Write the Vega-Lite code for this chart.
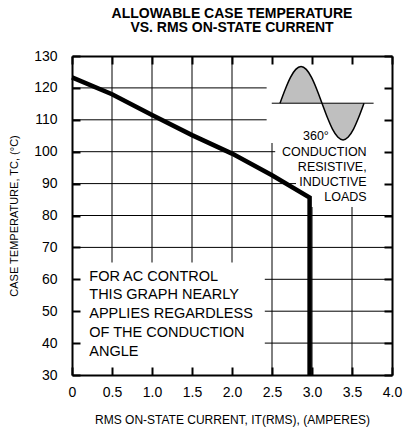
{
  "$schema": "https://vega.github.io/schema/vega-lite/v6.json",
  "width": 320,
  "height": 319,
  "autosize": "none",
  "padding": {"left": 72, "top": 56, "right": 12, "bottom": 55},
  "background": "white",
  "title": {
    "text": ["ALLOWABLE CASE TEMPERATURE", "VS. RMS ON-STATE CURRENT"],
    "font": "Liberation Sans",
    "fontSize": 14,
    "fontWeight": "bold",
    "lineHeight": 14.5,
    "color": "#000",
    "anchor": "middle",
    "offset": 14
  },
  "config": {
    "font": "Liberation Sans",
    "view": {"stroke": null},
    "axis": {
      "labelFont": "Liberation Sans",
      "labelFontSize": 14,
      "labelColor": "#000",
      "titleFont": "Liberation Sans",
      "titleFontWeight": "normal",
      "titleColor": "#000",
      "domainColor": "#000",
      "domainWidth": 2,
      "tickColor": "#000",
      "tickWidth": 2,
      "tickSize": -8,
      "grid": false,
      "zindex": 1
    }
  },
  "resolve": {"axis": {"x": "independent", "y": "independent"}},
  "layer": [
    {
      "data": {"values": [{"gy": 40}, {"gy": 50}, {"gy": 60}, {"gy": 70}, {"gy": 80}, {"gy": 90}, {"gy": 100}, {"gy": 110}, {"gy": 120}]},
      "mark": {"type": "rule", "color": "#000", "strokeWidth": 1},
      "encoding": {
        "y": {
          "field": "gy", "type": "quantitative",
          "scale": {"domain": [30, 130], "nice": false, "zero": false},
          "axis": {"orient": "right", "labels": false, "title": null, "values": [30, 40, 50, 60, 70, 80, 90, 100, 110, 120, 130], "zindex": 1}
        }
      }
    },
    {
      "data": {"values": [{"gx": 0.5}, {"gx": 1.0}, {"gx": 1.5}, {"gx": 2.0}, {"gx": 2.5}, {"gx": 3.0}, {"gx": 3.5}]},
      "mark": {"type": "rule", "color": "#000", "strokeWidth": 1},
      "encoding": {
        "x": {
          "field": "gx", "type": "quantitative",
          "scale": {"domain": [0, 4], "nice": false, "zero": false},
          "axis": {"orient": "top", "labels": false, "title": null, "values": [0, 0.5, 1, 1.5, 2, 2.5, 3, 3.5, 4], "zindex": 1}
        }
      }
    },
    {
      "data": {"values": [{}]},
      "mark": {"type": "rect", "color": "white"},
      "encoding": {
        "x": {"datum": 0, "type": "quantitative", "scale": {"domain": [0, 4], "nice": false, "zero": false}, "axis": null},
        "x2": {"datum": 2.41},
        "y": {"datum": 30, "type": "quantitative", "scale": {"domain": [30, 130], "nice": false, "zero": false}, "axis": null},
        "y2": {"datum": 65.3}
      }
    },
    {
      "data": {"values": [{}]},
      "mark": {"type": "rect", "color": "white"},
      "encoding": {
        "x": {"datum": 2.433, "type": "quantitative", "scale": {"domain": [0, 4], "nice": false, "zero": false}, "axis": null},
        "x2": {"datum": 4},
        "y": {"datum": 102.7, "type": "quantitative", "scale": {"domain": [30, 130], "nice": false, "zero": false}, "axis": null},
        "y2": {"datum": 130}
      }
    },
    {
      "data": {"values": [{}]},
      "mark": {"type": "rect", "color": "white"},
      "encoding": {
        "x": {"datum": 2.54, "type": "quantitative", "scale": {"domain": [0, 4], "nice": false, "zero": false}, "axis": null},
        "x2": {"datum": 4},
        "y": {"datum": 96.5, "type": "quantitative", "scale": {"domain": [30, 130], "nice": false, "zero": false}, "axis": null},
        "y2": {"datum": 102.8}
      }
    },
    {
      "data": {"values": [{}]},
      "mark": {"type": "rect", "color": "white"},
      "encoding": {
        "x": {"datum": 2.8, "type": "quantitative", "scale": {"domain": [0, 4], "nice": false, "zero": false}, "axis": null},
        "x2": {"datum": 4},
        "y": {"datum": 82.7, "type": "quantitative", "scale": {"domain": [30, 130], "nice": false, "zero": false}, "axis": null},
        "y2": {"datum": 96.6}
      }
    },
    {
      "data": {"name": "sine", "values": [
        {"t": 2.6, "v": 115.2}, {"t": 2.666, "v": 119.6}, {"t": 2.731, "v": 123.3}, {"t": 2.797, "v": 125.8}, {"t": 2.863, "v": 126.7},
        {"t": 2.928, "v": 125.8}, {"t": 2.994, "v": 123.3}, {"t": 3.059, "v": 119.6}, {"t": 3.125, "v": 115.2},
        {"t": 3.191, "v": 110.8}, {"t": 3.256, "v": 107.1}, {"t": 3.322, "v": 104.6}, {"t": 3.388, "v": 103.7},
        {"t": 3.453, "v": 104.6}, {"t": 3.519, "v": 107.1}, {"t": 3.584, "v": 110.8}, {"t": 3.65, "v": 115.2}
      ]},
      "layer": [
        {
          "mark": {"type": "area", "color": "#bfbfbf", "interpolate": "monotone"},
          "encoding": {
            "x": {"field": "t", "type": "quantitative", "scale": {"domain": [0, 4], "nice": false, "zero": false}, "axis": null},
            "y": {"field": "v", "type": "quantitative", "scale": {"domain": [30, 130], "nice": false, "zero": false}, "axis": null},
            "y2": {"datum": 115.2}
          }
        },
        {
          "mark": {"type": "line", "color": "#000", "strokeWidth": 1.5, "interpolate": "monotone"},
          "encoding": {
            "x": {"field": "t", "type": "quantitative", "scale": {"domain": [0, 4], "nice": false, "zero": false}, "axis": null},
            "y": {"field": "v", "type": "quantitative", "scale": {"domain": [30, 130], "nice": false, "zero": false}, "axis": null}
          }
        }
      ]
    },
    {
      "data": {"values": [{}]},
      "mark": {"type": "rule", "color": "#000", "strokeWidth": 1},
      "encoding": {
        "x": {"datum": 2.497, "type": "quantitative", "scale": {"domain": [0, 4], "nice": false, "zero": false}, "axis": null},
        "x2": {"datum": 3.77},
        "y": {"datum": 115.2, "type": "quantitative", "scale": {"domain": [30, 130], "nice": false, "zero": false}, "axis": null}
      }
    },
    {
      "data": {"values": [
        {"current": 0, "temp": 123.3, "order": 1},
        {"current": 0.5, "temp": 118.0, "order": 2},
        {"current": 1.0, "temp": 111.5, "order": 3},
        {"current": 1.5, "temp": 105.2, "order": 4},
        {"current": 2.0, "temp": 99.4, "order": 5},
        {"current": 2.5, "temp": 92.6, "order": 6},
        {"current": 2.97, "temp": 85.6, "order": 7},
        {"current": 2.97, "temp": 30, "order": 8}
      ]},
      "mark": {"type": "line", "color": "#000", "strokeWidth": 4.5, "strokeCap": "butt", "strokeJoin": "miter"},
      "encoding": {
        "order": {"field": "order", "type": "quantitative"},
        "x": {
          "field": "current", "type": "quantitative",
          "scale": {"domain": [0, 4], "nice": false, "zero": false},
          "axis": {
            "orient": "bottom",
            "values": [0, 0.5, 1, 1.5, 2, 2.5, 3, 3.5, 4],
            "labelExpr": "datum.value == 0 ? '0' : format(datum.value, '.1f')",
            "labelFlush": false,
            "labelPadding": 18,
            "title": "RMS ON-STATE CURRENT, IT(RMS), (AMPERES)",
            "titleFontSize": 12,
            "titlePadding": 15,
            "zindex": 1
          }
        },
        "y": {
          "field": "temp", "type": "quantitative",
          "scale": {"domain": [30, 130], "nice": false, "zero": false},
          "axis": {
            "orient": "left",
            "values": [30, 40, 50, 60, 70, 80, 90, 100, 110, 120, 130],
            "labelPadding": 23,
            "title": "CASE TEMPERATURE, TC, (°C)",
            "titleFontSize": 11,
            "titlePadding": 14,
            "zindex": 1
          }
        }
      }
    },
    {
      "data": {"values": [{"note": ["FOR AC CONTROL", "THIS GRAPH NEARLY", "APPLIES REGARDLESS", "OF THE CONDUCTION", "ANGLE"]}]},
      "mark": {"type": "text", "align": "left", "baseline": "middle", "fontSize": 14.5, "lineHeight": 18.75, "font": "Liberation Sans", "color": "#000"},
      "encoding": {
        "text": {"field": "note"},
        "x": {"datum": 0.216, "type": "quantitative", "scale": {"domain": [0, 4], "nice": false, "zero": false}, "axis": null},
        "y": {"datum": 60.8, "type": "quantitative", "scale": {"domain": [30, 130], "nice": false, "zero": false}, "axis": null}
      }
    },
    {
      "data": {"values": [{"note": ["CONDUCTION", "RESISTIVE,", "INDUCTIVE", "LOADS"]}]},
      "mark": {"type": "text", "align": "right", "baseline": "middle", "fontSize": 12.5, "lineHeight": 15, "font": "Liberation Sans", "color": "#000"},
      "encoding": {
        "text": {"field": "note"},
        "x": {"datum": 3.683, "type": "quantitative", "scale": {"domain": [0, 4], "nice": false, "zero": false}, "axis": null},
        "y": {"datum": 100.0, "type": "quantitative", "scale": {"domain": [30, 130], "nice": false, "zero": false}, "axis": null}
      }
    },
    {
      "data": {"values": [{"note": "360°"}]},
      "mark": {"type": "text", "align": "center", "baseline": "middle", "fontSize": 12.5, "font": "Liberation Sans", "color": "#000"},
      "encoding": {
        "text": {"field": "note"},
        "x": {"datum": 3.049, "type": "quantitative", "scale": {"domain": [0, 4], "nice": false, "zero": false}, "axis": null},
        "y": {"datum": 104.9, "type": "quantitative", "scale": {"domain": [30, 130], "nice": false, "zero": false}, "axis": null}
      }
    }
  ]
}
